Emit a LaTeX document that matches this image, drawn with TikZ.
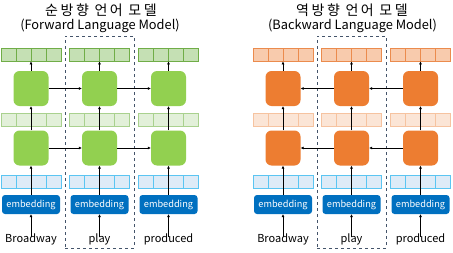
\documentclass[tikz,border=0pt]{standalone}
\usepackage{fontspec}
\setmainfont{Noto Sans CJK KR}
\usetikzlibrary{arrows.meta, positioning}
\definecolor{fwblock}{HTML}{92D050}
\definecolor{fwdark}{HTML}{C5E0B4}
\definecolor{fwdarkline}{HTML}{70AD47}
\definecolor{fwlight}{HTML}{E2F0D9}
\definecolor{fwlightline}{HTML}{A9D18E}
\definecolor{bwblock}{HTML}{ED7D31}
\definecolor{bwdark}{HTML}{F8CBAD}
\definecolor{bwdarkline}{HTML}{EB8B4D}
\definecolor{bwlight}{HTML}{FBE5D6}
\definecolor{bwlightline}{HTML}{F6C3A0}
\definecolor{embfill}{HTML}{DEEBF7}
\definecolor{embline}{HTML}{5BC5F2}
\definecolor{embblue}{HTML}{0070C0}
\definecolor{boxline}{HTML}{44546A}

\begin{document}
\begin{tikzpicture}[x=1pt, y=-1pt,
    block/.style={rounded corners=6pt, minimum size=35pt, inner sep=0pt},
    vec/.style={draw, line width=0.8pt, minimum width=60pt, minimum height=13pt, inner sep=0pt,
                path picture={\foreach \k in {1,2,3}
                  \draw[#1, line width=0.8pt]
                    ([xshift=\k*15pt]path picture bounding box.south west) --
                    ([xshift=\k*15pt]path picture bounding box.north west);}},
    embed/.style={fill=embblue, rounded corners=3pt, minimum width=58pt, minimum height=19pt,
                  inner sep=0pt, text=white, font=\fontsize{9.2}{10}\selectfont},
    word/.style={font=\fontsize{11}{12}\selectfont, inner sep=1pt},
    title/.style={font=\fontsize{14}{16}\selectfont\addfontfeatures{LetterSpace=18}},
    subtitle/.style={font=\fontsize{12.8}{14}\selectfont},
    dashbox/.style={draw=boxline, dashed, line width=0.6pt, minimum width=69pt,
                    minimum height=212pt, inner sep=0pt},
    arr/.style={-{Latex[length=3pt, width=3pt]}, line width=0.8pt}
  ]
    \useasboundingbox (0,0) rectangle (453,252);

    % Forward language model
    \node[title] (fwtitle) at (101,10) {순방향 언어 모델};
    \node[subtitle] (fwsub) at (100,25.5) {(Forward Language Model)};
    \node[dashbox] (fwbox) at (99.5,142) {};
    \foreach \i/\x/\w in {1/31/Broadway, 2/99.5/play, 3/168.5/produced} {
      \node[vec=fwdarkline, fill=fwdark, draw=fwdarkline] (fwtop\i) at (\x,54.5) {};
      \node[block, fill=fwblock] (fwup\i) at (\x,88.5) {};
      \node[vec=fwlightline, fill=fwlight, draw=fwlightline] (fwmid\i) at (\x,119.5) {};
      \node[block, fill=fwblock] (fwlo\i) at (\x,148) {};
      \node[vec=embline, fill=embfill, draw=embline] (fwemb\i) at (\x,181.5) {};
      \node[embed] (fwembed\i) at (\x,204.5) {embedding};
      \node[word] (fwword\i) at (\x,239) {\w};
    }

    % Backward language model
    \node[title] (bwtitle) at (352,10) {역방향 언어 모델};
    \node[subtitle] (bwsub) at (352.5,25.5) {(Backward Language Model)};
    \node[dashbox] (bwbox) at (351.5,142) {};
    \foreach \i/\x/\w in {1/283/Broadway, 2/351.5/play, 3/420.5/produced} {
      \node[vec=bwdarkline, fill=bwdark, draw=bwdarkline] (bwtop\i) at (\x,54.5) {};
      \node[block, fill=bwblock] (bwup\i) at (\x,88.5) {};
      \node[vec=bwlightline, fill=bwlight, draw=bwlightline] (bwmid\i) at (\x,119.5) {};
      \node[block, fill=bwblock] (bwlo\i) at (\x,148) {};
      \node[vec=embline, fill=embfill, draw=embline] (bwemb\i) at (\x,181.5) {};
      \node[embed] (bwembed\i) at (\x,204.5) {embedding};
      \node[word] (bwword\i) at (\x,239) {\w};
    }

    % Vertical arrows
    \foreach \p in {fw,bw} {
      \foreach \i in {1,2,3} {
        \draw[arr] ([yshift=-5pt]\p word\i.north) -- (\p embed\i);
        \draw[arr] (\p embed\i) -- (\p lo\i);
        \draw[arr] (\p lo\i) -- (\p up\i);
        \draw[arr] (\p up\i) -- (\p top\i);
      }
    }

    % Horizontal arrows
    \foreach \i/\j in {1/2, 2/3} {
      \draw[arr] (fwup\i) -- (fwup\j);
      \draw[arr] (fwlo\i) -- (fwlo\j);
      \draw[arr] (bwup\j) -- (bwup\i);
      \draw[arr] (bwlo\j) -- (bwlo\i);
    }
  \end{tikzpicture}
\end{document}
